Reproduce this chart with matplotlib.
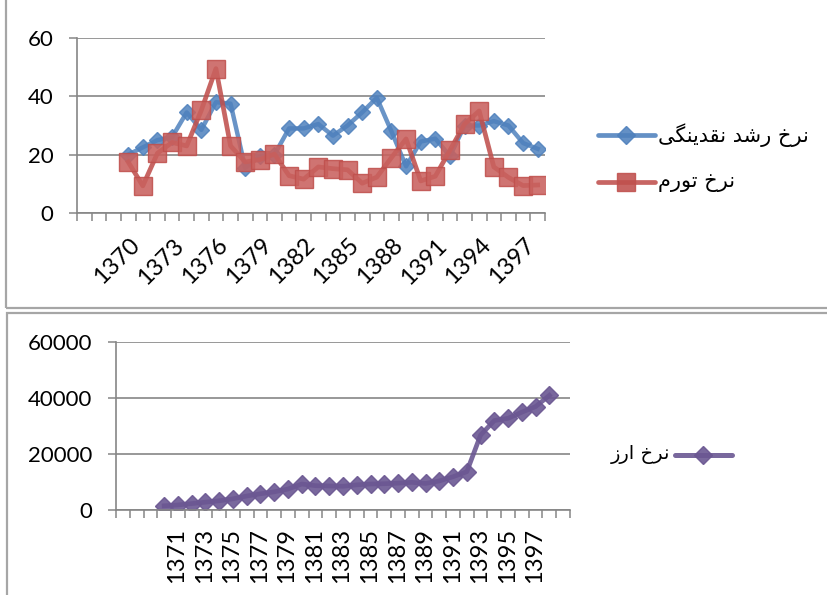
import numpy as np
import matplotlib.pyplot as plt
from matplotlib.patches import Rectangle
from matplotlib.lines import Line2D
from matplotlib.transforms import ScaledTranslation

# ---- data ----
years = list(range(1370, 1399))

liquidity_growth = [20, 22.5, 25, 26, 34.5, 28.5, 38, 37.5, 15.5, 19.5,
                    20, 29, 29, 30.5, 26.5, 30, 34.5, 39.5, 28, 16,
                    24.5, 25.5, 19.5, 30, 30, 31.5, 30, 24, 22]

inflation = [17.5, 9.3, 20.5, 24.2, 23, 35.2, 49.5, 23, 17.5, 18.3,
             20.2, 12.8, 11.6, 15.8, 15.2, 14.8, 10.2, 12.3, 19, 25.4,
             11, 12.6, 21.5, 30.5, 35, 15.8, 12.2, 9.4, 9.6]

exchange_rate = [1500, 1800, 2300, 2800, 3300, 4000, 5000, 5800, 6500, 7500,
                 9300, 8700, 8600, 8500, 9000, 9300, 9400, 9600, 9900, 9500,
                 10400, 11900, 13700, 26800, 32000, 32800, 35000, 37000, 41000]

top_yticks = [0, 20, 40, 60]
bottom_yticks = [0, 20000, 40000, 60000]

label_liquidity = "نرخ رشد نقدینگی"
label_inflation = "نرخ تورم"
label_exchange = "نرخ ارز"

# ---- simple Persian shaping (matplotlib has no complex text layout) ----
FORMS = {
    'ن': ('\uFEE5', '\uFEE6', '\uFEE7', '\uFEE8'),
    'خ': ('\uFEA5', '\uFEA6', '\uFEA7', '\uFEA8'),
    'ش': ('\uFEB5', '\uFEB6', '\uFEB7', '\uFEB8'),
    'ق': ('\uFED5', '\uFED6', '\uFED7', '\uFED8'),
    'ی': ('\uFBFC', '\uFBFD', '\uFBFE', '\uFBFF'),
    'گ': ('\uFB92', '\uFB93', '\uFB94', '\uFB95'),
    'ت': ('\uFE95', '\uFE96', '\uFE97', '\uFE98'),
    'م': ('\uFEE1', '\uFEE2', '\uFEE3', '\uFEE4'),
    'ر': ('\uFEAD', '\uFEAE'),
    'د': ('\uFEA9', '\uFEAA'),
    'و': ('\uFEED', '\uFEEE'),
    'ا': ('\uFE8D', '\uFE8E'),
    'ز': ('\uFEAF', '\uFEB0'),
}


def shape(s):
    out = []
    for i, ch in enumerate(s):
        if ch not in FORMS:
            out.append(ch)
            continue
        prev = s[i - 1] if i > 0 else ' '
        nxt = s[i + 1] if i + 1 < len(s) else ' '
        forms = FORMS[ch]
        join_prev = prev in FORMS and len(FORMS[prev]) == 4
        join_next = nxt in FORMS and len(forms) == 4
        if join_prev and join_next:
            out.append(forms[3])
        elif join_prev:
            out.append(forms[1])
        elif join_next:
            out.append(forms[2])
        else:
            out.append(forms[0])
    return ''.join(reversed(out))


plt.rcParams['font.family'] = ['Lato', 'DejaVu Sans']

W, H = 827, 595
fig = plt.figure(figsize=(W / 100, H / 100), dpi=100)


def fx(x):
    return x / W


def fy(y):
    return 1 - y / H


grey = '#868686'
border = '#a6a6a6'

# chart area borders
fig.add_artist(Rectangle((fx(6), fy(308)), 1.2, fy(-10) - fy(308),
                         transform=fig.transFigure, fill=False,
                         edgecolor=border, lw=1.6))
fig.add_artist(Rectangle((fx(7), fy(610)), 1.2, fy(313) - fy(610),
                         transform=fig.transFigure, fill=False,
                         edgecolor=border, lw=1.6))


def style_axes(ax, ncat, yticks, ylim):
    ax.set_xlim(-0.5, ncat - 0.5)
    ax.set_ylim(*ylim)
    ax.set_yticks(yticks)
    ax.set_yticklabels([str(t) for t in yticks], fontsize=16)
    ax.set_xticks(np.arange(-0.5, ncat, 1))
    ax.set_xticklabels([])
    ax.tick_params(axis='x', direction='out', length=5.5, width=1.1, color=grey)
    ax.tick_params(axis='y', direction='out', length=6, width=1.1, color=grey, pad=11)
    for side in ['top', 'right']:
        ax.spines[side].set_visible(False)
    for side in ['left', 'bottom']:
        ax.spines[side].set_color(grey)
        ax.spines[side].set_linewidth(1.2)
    ax.yaxis.grid(True, color=grey, lw=1.2)
    ax.set_axisbelow(True)
    ax.patch.set_alpha(0)


# ---- top chart ----
ax1 = fig.add_axes([fx(77), fy(213), fx(545) - fx(77), fy(38) - fy(213)])
ncat1 = 32
x1 = np.arange(3, 3 + len(years))
style_axes(ax1, ncat1, top_yticks, (0, 60))

blue = '#4F81BD'
red = '#C0504D'
ax1.plot(x1, liquidity_growth, color=blue, lw=3.2, marker='D', ms=8,
         mfc=blue, mec=blue, alpha=0.85, solid_joinstyle='round')
ax1.plot(x1, inflation, color=red, lw=3.4, marker='s', ms=12.5,
         mfc='#C9615E', mec='#C0504D', alpha=0.88, solid_joinstyle='round')

off1 = ScaledTranslation(8 / 100, -29 / 100, fig.dpi_scale_trans)
for i in range(0, len(years), 3):
    ax1.text(x1[i], 0, str(years[i]), transform=ax1.get_xaxis_transform() + off1,
             rotation=45, rotation_mode='anchor', ha='right', va='center',
             fontsize=17)

# legend top
for yy, col, ms, mk, txt in [(135, blue, 9, 'D', label_liquidity),
                             (182, red, 12.5, 's', label_inflation)]:
    fig.add_artist(Line2D([fx(598), fx(655)], [fy(yy), fy(yy)],
                          transform=fig.transFigure, color=col, lw=3.4,
                          solid_capstyle='round', alpha=0.88))
    fig.add_artist(Line2D([fx(626)], [fy(yy)], transform=fig.transFigure,
                          marker=mk, ms=ms, color=col, alpha=0.88))
    fig.text(fx(658), fy(yy), shape(txt), ha='left', va='center',
             fontsize=15, family=['DejaVu Sans'])

# ---- bottom chart ----
ax2 = fig.add_axes([fx(116), fy(510), fx(570) - fx(116), fy(342.3) - fy(510)])
ncat2 = 33
x2 = np.arange(3, 3 + len(years))
style_axes(ax2, ncat2, bottom_yticks, (0, 60000))

purple = '#6B5792'
ax2.plot(x2, exchange_rate, color=purple, lw=3.4, marker='D', ms=9.5,
         mfc=purple, mec=purple, alpha=0.9, solid_joinstyle='round')

off2 = ScaledTranslation(-1 / 100, -18 / 100, fig.dpi_scale_trans)
for i in range(1, len(years) - 1, 2):
    ax2.text(x2[i], 0, str(years[i]), transform=ax2.get_xaxis_transform() + off2,
             rotation=90, rotation_mode='anchor', ha='right', va='center',
             fontsize=17)

# legend bottom
fig.add_artist(Line2D([fx(675), fx(732)], [fy(455), fy(455)],
                      transform=fig.transFigure, color=purple, lw=3.6,
                      solid_capstyle='round', alpha=0.9))
fig.add_artist(Line2D([fx(703)], [fy(455)], transform=fig.transFigure,
                      marker='D', ms=9.5, color=purple, alpha=0.9))
fig.text(fx(670), fy(455), shape(label_exchange), ha='right', va='center',
         fontsize=14, family=['DejaVu Sans'])

fig.savefig('out.png', dpi=100)
